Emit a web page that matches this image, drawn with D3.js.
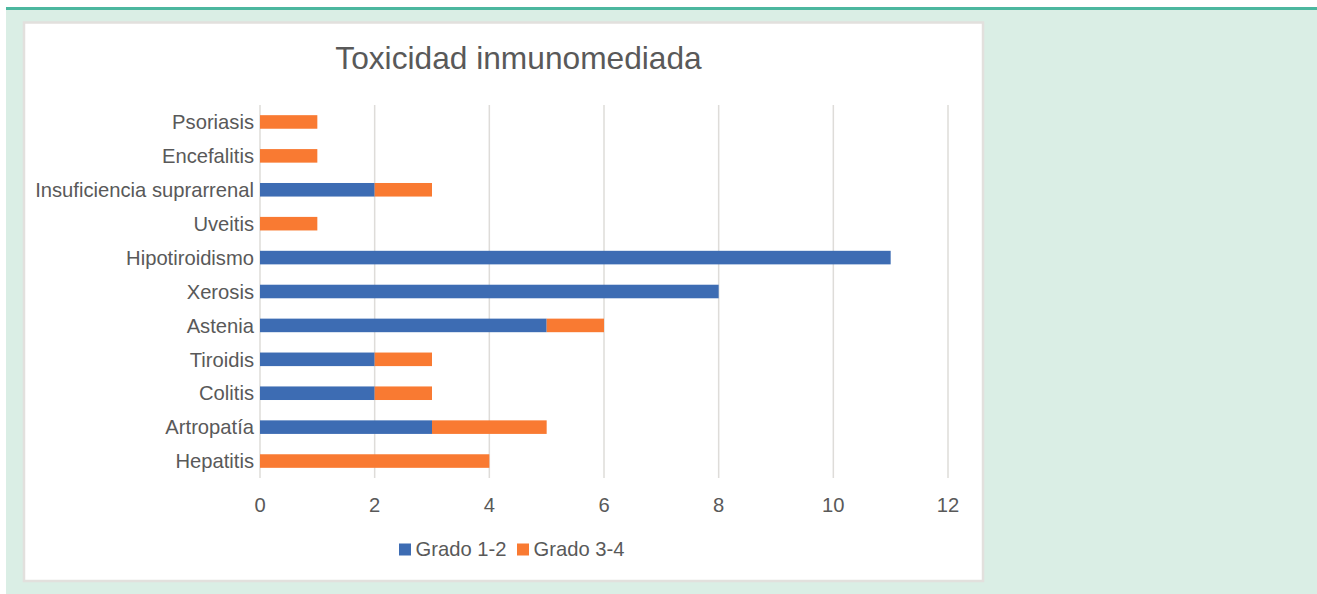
<!DOCTYPE html>
<html lang="es">
<head>
<meta charset="UTF-8">
<title>Toxicidad inmunomediada</title>
<script src="https://d3js.org/d3.v7.min.js"></script>
<style>
  html, body { margin: 0; padding: 0; background: #fff; }
  svg text { font-family: "Liberation Sans", Arial, sans-serif; fill: #595959; }
</style>
</head>
<body>
<svg width="1317" height="594"></svg>
<script>
  const categories = ["Psoriasis", "Encefalitis", "Insuficiencia suprarrenal", "Uveitis",
    "Hipotiroidismo", "Xerosis", "Astenia", "Tiroidis", "Colitis", "Artropatía", "Hepatitis"];
  const grado12 = [0, 0, 2, 0, 11, 8, 5, 2, 2, 3, 0];
  const grado34 = [1, 1, 1, 1, 0, 0, 1, 1, 1, 2, 4];
  const seriesNames = ["Grado 1-2", "Grado 3-4"];
  const xTicks = [0, 2, 4, 6, 8, 10, 12];

  const colors = ["#3d6cb3", "#f97a32"];
  const svg = d3.select("svg");

  // page decoration: mint panel with teal top rule, white chart card
  svg.append("rect").attr("x", 6).attr("y", 8).attr("width", 1311).attr("height", 586).attr("fill", "#daeee5");
  svg.append("rect").attr("x", 6).attr("y", 7).attr("width", 1311).attr("height", 3).attr("fill", "#4cb79f");
  svg.append("rect").attr("x", 24).attr("y", 22.5).attr("width", 959).attr("height", 558.5)
    .attr("fill", "#fff").attr("stroke", "#e2e0dd").attr("stroke-width", 2.5);

  const x = d3.scaleLinear().domain([0, 12]).range([260, 948]);
  const y = d3.scaleBand().domain(categories).range([105, 478]).paddingInner(0.6).paddingOuter(0.3);

  // gridlines
  svg.append("g").selectAll("line").data(xTicks).join("line")
    .attr("x1", d => x(d)).attr("x2", d => x(d))
    .attr("y1", 105).attr("y2", 478)
    .attr("stroke", "#dedcd9").attr("stroke-width", 1.5);

  // bars
  const rows = categories.map((c, i) => ({ c, a: grado12[i], b: grado34[i] }));
  svg.append("g").selectAll("rect").data(rows.filter(d => d.a > 0)).join("rect")
    .attr("x", x(0)).attr("y", d => y(d.c))
    .attr("width", d => x(d.a) - x(0)).attr("height", y.bandwidth())
    .attr("fill", colors[0]);
  svg.append("g").selectAll("rect").data(rows.filter(d => d.b > 0)).join("rect")
    .attr("x", d => x(d.a)).attr("y", d => y(d.c))
    .attr("width", d => x(d.a + d.b) - x(d.a)).attr("height", y.bandwidth())
    .attr("fill", colors[1]);

  // category labels
  svg.append("g").selectAll("text").data(categories).join("text")
    .attr("x", 254).attr("y", d => y(d) + y.bandwidth() / 2)
    .attr("dy", "0.36em").attr("text-anchor", "end")
    .style("font-size", "20.2px").text(d => d);

  // x tick labels
  svg.append("g").selectAll("text").data(xTicks).join("text")
    .attr("x", d => x(d)).attr("y", 511.5).attr("text-anchor", "middle")
    .style("font-size", "20.2px").text(d => d);

  // title
  svg.append("text").attr("x", 518.5).attr("y", 69).attr("text-anchor", "middle")
    .style("font-size", "31.7px").text("Toxicidad inmunomediada");

  // legend
  const legendX = [399, 517];
  seriesNames.forEach((name, i) => {
    svg.append("rect").attr("x", legendX[i]).attr("y", 543.5).attr("width", 12).attr("height", 12).attr("fill", colors[i]);
    svg.append("text").attr("x", legendX[i] + 16.5).attr("y", 556).style("font-size", "20.2px").text(name);
  });
</script>
</body>
</html>
